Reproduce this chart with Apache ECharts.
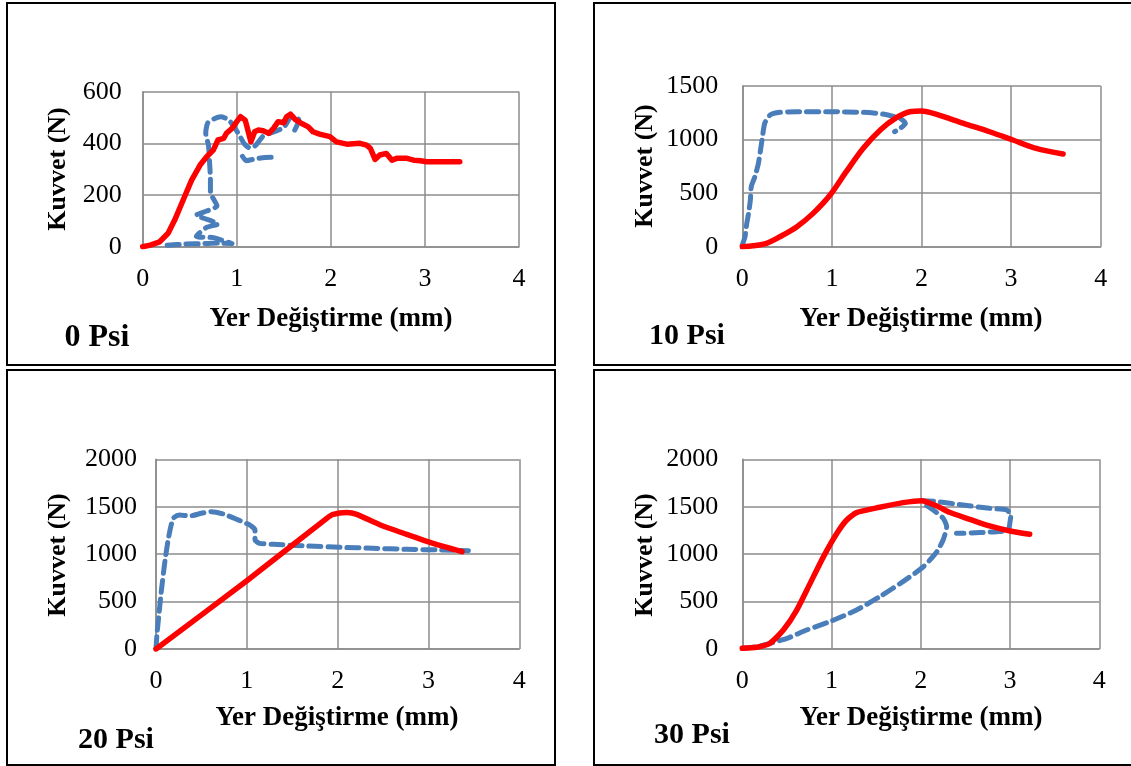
<!DOCTYPE html>
<html>
<head>
<meta charset="utf-8">
<script src="https://cdn.jsdelivr.net/npm/echarts@6/dist/echarts.min.js"></script>
<style>
html,body{margin:0;padding:0;background:#fff;}
#chart{width:1131px;height:766px;}
</style>
</head>
<body>
<div id="chart"></div>
<script>
// ---- Data (displacement mm, force N) ----
const xTicks = [0, 1, 2, 3, 4];
const panelLabels = ['0 Psi', '10 Psi', '20 Psi', '30 Psi'];
const yMax = [600, 1500, 2000, 2000];
const yStep = [200, 500, 500, 500];
const xTitle = 'Yer Değiştirme (mm)';
const yTitle = 'Kuvvet (N)';

const psi0Red = [[0,0],[0.08,6],[0.18,19],[0.27,52],[0.34,103],[0.43,181],[0.52,258],[0.61,316],[0.68,348],[0.75,374],[0.8,413],[0.86,419],[0.89,439],[0.95,458],[1.0,484],[1.04,503],[1.09,490],[1.11,493],[1.15,406],[1.19,445],[1.23,452],[1.28,449],[1.34,439],[1.39,458],[1.44,484],[1.5,480],[1.53,503],[1.57,513],[1.62,493],[1.69,477],[1.76,464],[1.81,445],[1.88,436],[1.99,426],[2.06,406],[2.17,397],[2.31,400],[2.38,393],[2.42,381],[2.47,338],[2.52,355],[2.59,361],[2.65,335],[2.7,342],[2.81,342],[2.88,335],[2.95,333],[3.02,329],[3.16,329],[3.37,329]];
const psi0BlueA = [[0.26,6],[0.45,10],[0.65,12],[0.8,14],[0.95,12],[0.75,35],[0.57,40],[0.68,75],[0.8,88],[0.65,110],[0.57,122],[0.68,138],[0.79,158],[0.72,210],[0.72,260],[0.71,330],[0.7,390],[0.67,440],[0.69,478],[0.76,495],[0.83,503],[0.91,492],[0.97,465],[1.03,430],[1.08,398],[1.14,382],[1.2,392],[1.28,428],[1.4,445],[1.5,462],[1.57,500],[1.63,506],[1.66,490],[1.6,440]];
const psi0BlueB = [[1.06,350],[1.1,333],[1.2,340],[1.3,345],[1.39,346]];

const psi10Red = [[0,0],[0.12,9],[0.27,31],[0.42,93],[0.61,187],[0.79,311],[0.98,482],[1.16,700],[1.35,918],[1.54,1089],[1.72,1204],[1.87,1260],[2.0,1266],[2.17,1235],[2.47,1151],[2.76,1073],[3.02,996],[3.28,918],[3.58,865]];
const psi10Blue = [[0,16],[0.03,93],[0.05,218],[0.07,311],[0.09,436],[0.1,560],[0.14,653],[0.18,778],[0.22,996],[0.25,1151],[0.31,1229],[0.42,1254],[0.61,1260],[0.98,1260],[1.35,1254],[1.57,1238],[1.76,1198],[1.82,1151],[1.76,1104],[1.7,1073]];

const psi20Red = [[0,0],[1.0,720],[1.88,1378],[1.95,1420],[2.1,1438],[2.21,1420],[2.47,1308],[2.76,1209],[3.05,1114],[3.37,1026]];
const psi20Blue = [[0,0],[0.01,148],[0.03,341],[0.06,622],[0.1,938],[0.14,1185],[0.19,1378],[0.26,1413],[0.37,1402],[0.5,1431],[0.61,1448],[0.74,1424],[0.89,1367],[1.03,1308],[1.09,1255],[1.09,1149],[1.14,1114],[1.29,1104],[1.66,1086],[2.03,1072],[2.39,1062],[2.76,1051],[3.13,1044],[3.44,1037]];

const psi30Red = [[0,7],[0.16,18],[0.31,60],[0.46,200],[0.61,411],[0.76,692],[0.91,974],[1.06,1220],[1.17,1360],[1.28,1438],[1.54,1494],[1.8,1543],[2.01,1564],[2.18,1508],[2.32,1441],[2.55,1367],[2.77,1297],[3.0,1244],[3.22,1209]];
const psi30Blue = [[0,7],[0.16,25],[0.31,60],[0.5,112],[0.72,200],[0.98,288],[1.28,411],[1.54,552],[1.8,710],[2.03,868],[2.18,1026],[2.25,1149],[2.29,1290],[2.25,1378],[2.14,1466],[2.03,1536],[2.01,1564],[2.18,1554],[2.47,1518],[2.77,1483],[2.96,1466],[3.01,1413],[3.0,1343],[2.98,1255],[2.85,1237],[2.66,1227],[2.47,1220],[2.4,1220]];

// ---- Layout ----
const FONT = "'Liberation Serif','Times New Roman',serif";
const RED = '#ff0000', BLUE = '#4a7ebb', GRID = '#8c8c8c';
const grids = [
  {left:142.7, top:91.7, width:376.3, height:155},
  {left:742.3, top:86, width:358.4, height:160.7},
  {left:156, top:459.3, width:363.3, height:189.7},
  {left:742.3, top:459.3, width:357, height:189.7}
];
const panels = [
  {x:7, y:3, w:548, h:362},
  {x:594, y:3, w:545, h:362},
  {x:7, y:370, w:548, h:395},
  {x:594, y:370, w:545, h:395}
];
const labelPos = [[97,338],[687,336],[116,740],[692,735]];
const labelSize = [32, 30, 30, 30];
const xTitlePos = [[331,319],[921,319],[337,718],[921,718]];
const yTitlePos = [[58,169],[645,166],[58,555],[645,555]];
const plain = v => String(v);

const xAxes = grids.map((g,i)=>({
  type:'value', gridIndex:i, min:xTicks[0], max:xTicks[xTicks.length-1], interval:1,
  axisLine:{show:true, lineStyle:{color:GRID, width:1.5}},
  axisTick:{show:false},
  splitLine:{show:true, lineStyle:{color:GRID, width:1.5}},
  axisLabel:{color:'#000', fontFamily:FONT, fontSize:26, margin:19, formatter:plain}
}));
const yAxes = grids.map((g,i)=>({
  type:'value', gridIndex:i, min:0, max:yMax[i], interval:yStep[i],
  axisLine:{show:true, lineStyle:{color:GRID, width:1.5}},
  axisTick:{show:false},
  splitLine:{show:true, lineStyle:{color:GRID, width:1.5}},
  axisLabel:{color:'#000', fontFamily:FONT, fontSize:26, margin:i%2===0?(i===0?21:19):24, formatter:plain}
}));

function blue(data, i){
  return {type:'line', xAxisIndex:i, yAxisIndex:i, data, showSymbol:false, symbol:'none', smooth:0.2,
    lineStyle:{color:BLUE, width:5, type:[12,7], cap:'round', join:'round'}, z:2, silent:true, animation:false};
}
function red(data, i, sm){
  return {type:'line', xAxisIndex:i, yAxisIndex:i, data, showSymbol:false, symbol:'none', smooth:sm,
    lineStyle:{color:RED, width:5.5, cap:'round', join:'round'}, z:3, silent:true, animation:false};
}

const series = [
  blue(psi0BlueA,0), blue(psi0BlueB,0), red(psi0Red,0,false),
  blue(psi10Blue,1), red(psi10Red,1,0.3),
  blue(psi20Blue,2), red(psi20Red,2,0.2),
  blue(psi30Blue,3), red(psi30Red,3,0.2)
];

const graphic = [];
panels.forEach(p=>graphic.push({type:'rect', shape:{x:p.x, y:p.y, width:p.w, height:p.h}, style:{fill:'none', stroke:'#000', lineWidth:2}, silent:true}));
for(let i=0;i<4;i++){
  graphic.push({type:'text', x:labelPos[i][0], y:labelPos[i][1], style:{text:panelLabels[i], font:"bold "+labelSize[i]+"px "+FONT, fill:'#000', textAlign:'center', textVerticalAlign:'middle', verticalAlign:'middle'}});
  graphic.push({type:'text', x:xTitlePos[i][0], y:xTitlePos[i][1], style:{text:xTitle, font:"bold 27px "+FONT, fill:'#000', textAlign:'center', textVerticalAlign:'middle', verticalAlign:'middle'}});
  graphic.push({type:'text', x:yTitlePos[i][0], y:yTitlePos[i][1], rotation:Math.PI/2, style:{text:yTitle, font:"bold 26px "+FONT, fill:'#000', textAlign:'center', textVerticalAlign:'middle', verticalAlign:'middle'}});
}

const chart = echarts.init(document.getElementById('chart'), null, {renderer:'canvas'});
chart.setOption({
  animation:false,
  backgroundColor:'#fff',
  grid: grids,
  xAxis: xAxes,
  yAxis: yAxes,
  series,
  graphic
});
</script>
</body>
</html>
